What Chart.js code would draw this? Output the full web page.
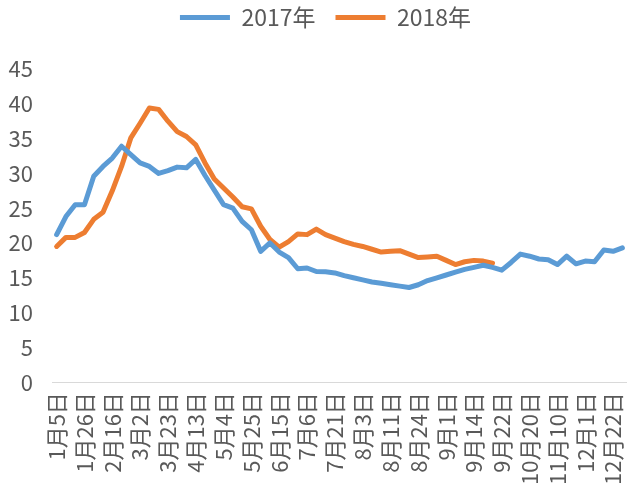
<!DOCTYPE html>
<html>
<head>
<meta charset="utf-8">
<style>
  html, body { margin: 0; padding: 0; background: #fff; }
  #wrap { width: 627px; height: 499px; }
</style>
</head>
<body>
<div id="wrap"><canvas id="priceChart" width="627" height="499"></canvas></div>

<script src="https://cdn.jsdelivr.net/npm/chart.js"></script>
<script>
// 横轴标签（每3个点显示一个）
const tickLabels = ['1月5日', '1月26日', '2月16日', '3月2日', '3月23日', '4月13日', '5月4日',
  '5月25日', '6月15日', '7月6日', '7月21日', '8月3日', '8月11日', '8月24日', '9月1日',
  '9月14日', '9月22日', '10月20日', '11月10日', '12月1日', '12月22日'];

const series2017 = [21.2, 23.8, 25.5, 25.5, 29.6, 31.0, 32.2, 33.9, 32.7, 31.5,
  31.0, 30.0, 30.4, 30.9, 30.8, 32.0, 29.7, 27.6, 25.5, 25.0,
  23.1, 21.9, 18.8, 20.0, 18.7, 17.9, 16.3, 16.4, 15.9, 15.85,
  15.7, 15.3, 15.0, 14.7, 14.4, 14.2, 14.0, 13.8, 13.6, 14.0,
  14.6, 15.0, 15.4, 15.8, 16.2, 16.5, 16.8, 16.5, 16.1, 17.2,
  18.4, 18.1, 17.7, 17.6, 16.9, 18.1, 17.0, 17.4, 17.3, 19.0,
  18.8, 19.3];

const series2018 = [19.5, 20.8, 20.8, 21.5, 23.4, 24.4, 27.5, 31.0, 35.1, 37.2,
  39.4, 39.2, 37.5, 36.0, 35.3, 34.1, 31.5, 29.2, 27.9, 26.6,
  25.2, 24.9, 22.4, 20.5, 19.4, 20.2, 21.3, 21.2, 22.0, 21.2,
  20.7, 20.2, 19.8, 19.5, 19.1, 18.7, 18.8, 18.9, 18.4, 17.9,
  18.0, 18.1, 17.5, 16.9, 17.3, 17.5, 17.4, 17.1];

const categories = series2017.map((_, i) => (i % 3 === 0 ? tickLabels[i / 3] : ''));

const fontFamily = '"Noto Sans CJK SC", "Noto Sans", sans-serif';
const textColor = '#595959';

function lineDataset(label, data, color) {
  return {
    label: label,
    data: data,
    borderColor: color,
    backgroundColor: color,
    borderWidth: 5,
    borderCapStyle: 'round',
    borderJoinStyle: 'round',
    pointRadius: 0,
    pointHoverRadius: 0,
    tension: 0,
    fill: false
  };
}

// 图例和绘图区之间留出空白，图例略向右移
const legendGap = {
  id: 'legendGap',
  beforeInit(chart) {
    const origFit = chart.legend.fit;
    chart.legend.fit = function () {
      origFit.call(this);
      this.height += 30;
    };
  },
  afterLayout(chart) {
    chart.legend.left += 8;
    chart.legend.right += 8;
  }
};

const ctx = document.getElementById('priceChart').getContext('2d');
new Chart(ctx, {
  type: 'line',
  data: {
    labels: categories,
    datasets: [
      lineDataset('2017年', series2017, '#5B9BD5'),
      lineDataset('2018年', series2018, '#ED7D31')
    ]
  },
  plugins: [legendGap],
  options: {
    responsive: false,
    animation: false,
    layout: { padding: { left: 8, right: 0, top: -14, bottom: 4 } },
    plugins: {
      tooltip: { enabled: false },
      legend: {
        position: 'top',
        labels: {
          usePointStyle: true,
          pointStyle: 'line',
          pointStyleWidth: 50,
          boxHeight: 22,
          padding: 20,
          color: textColor,
          font: { family: fontFamily, size: 23 }
        }
      }
    },
    scales: {
      x: {
        offset: true,
        grid: { display: false, drawTicks: false },
        border: { display: true, color: '#d9d9d9', width: 1 },
        ticks: {
          autoSkip: false,
          minRotation: 90,
          maxRotation: 90,
          padding: 10,
          color: textColor,
          font: { family: fontFamily, size: 22 }
        },
        afterFit(scale) {
          scale.paddingLeft = 0;
          scale.paddingRight = 0;
        }
      },
      y: {
        min: 0,
        max: 45,
        grid: { display: false, drawTicks: false },
        border: { display: false },
        ticks: {
          stepSize: 5,
          padding: 19,
          color: textColor,
          font: { family: fontFamily, size: 22 }
        },
        afterFit(scale) {
          scale.width = 44;
        }
      }
    }
  }
});
</script>
</body>
</html>
